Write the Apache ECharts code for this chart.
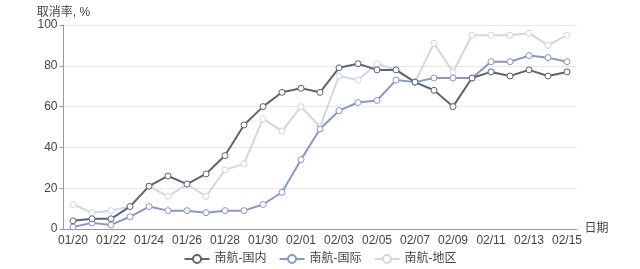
<!DOCTYPE html>
<html>
<head>
<meta charset="utf-8">
<script src="https://cdn.jsdelivr.net/npm/echarts@6/dist/echarts.min.js"></script>
<style>html,body{margin:0;padding:0;background:#fff}#c{width:640px;height:269px}</style>
</head>
<body>
<div id="c"></div>
<script>
const dates = ['01/20','01/21','01/22','01/23','01/24','01/25','01/26','01/27','01/28','01/29','01/30','01/31','02/01','02/02','02/03','02/04','02/05','02/06','02/07','02/08','02/09','02/10','02/11','02/12','02/13','02/14','02/15'];
const domestic = [4,5,5,11,21,26,22,27,36,51,60,67,69,67,79,81,78,78,72,68,60,74,77,75,78,75,77];
const international = [1,3,2,6,11,9,9,8,9,9,12,18,34,49,58,62,63,73,72,74,74,74,82,82,85,84,82];
const regional = [12,8,9,11,21,16,22,16,29,32,54,48,60,50,75,73,81,78,72,91,77,95,95,95,96,90,95];
const names = ['南航-国内','南航-国际','南航-地区'];
const colors = ['#5d6475','#8797c8','#d2d6de'];
const font = 'Liberation Sans, Noto Sans CJK SC, sans-serif';

const chart = echarts.init(document.getElementById('c'), null, {renderer:'canvas'});
const mk = (name, data, color, z) => ({
  name, type:'line', data, z,
  symbol:'circle', symbolSize:6,
  lineStyle:{color, width:2},
  itemStyle:{color:'#fff', borderColor:color, borderWidth:1},
  emphasis:{disabled:true}
});
chart.setOption({
  animation:false,
  textStyle:{fontFamily:font},
  grid:{left:63.5, right:63.5, top:25, bottom:40, containLabel:false},
  legend:{
    bottom:-1, left:'center', itemWidth:25, itemHeight:10, itemGap:12,
    textStyle:{color:'#444', fontSize:12, fontFamily:font},
    data:names.map((n,i)=>({name:n, itemStyle:{color:'#fff', borderColor:colors[i]}}))
  },
  xAxis:{
    type:'category', data:dates, boundaryGap:true,
    name:'日期', nameGap:8, nameTextStyle:{color:'#444', fontSize:12, verticalAlign:'middle'},
    axisLine:{lineStyle:{color:'#999'}},
    axisTick:{lineStyle:{color:'#999'}},
    axisLabel:{color:'#444', fontSize:12, interval:1, margin:6}
  },
  yAxis:{
    type:'value', min:0, max:100, interval:20,
    name:'取消率, %', nameGap:2, nameTextStyle:{color:'#444', fontSize:12, padding:[0,0,-3,0]},
    axisLine:{show:true, lineStyle:{color:'#999'}},
    axisTick:{show:true, length:4, lineStyle:{color:'#999'}},
    axisLabel:{color:'#444', fontSize:12, margin:6},
    splitLine:{lineStyle:{color:'#e8e8e8'}}
  },
  series:[
    mk(names[0], domestic, colors[0], 3),
    mk(names[1], international, colors[1], 2),
    mk(names[2], regional, colors[2], 1)
  ]
});
</script>
</body>
</html>
